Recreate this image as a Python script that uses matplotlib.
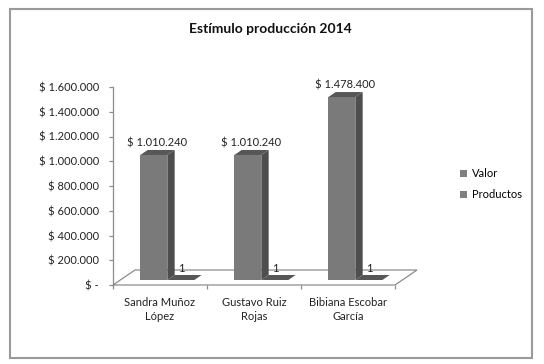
# -- coding: utf-8 --
# Estímulo producción 2014 - columnas 3D tipo Excel (imitadas en 2D)

import matplotlib
matplotlib.use('Agg')
import matplotlib.pyplot as plt
from matplotlib.patches import Polygon, Rectangle, Patch

plt.rcParams['font.family'] = ['Lato', 'DejaVu Sans']

# datos
nombres = ['Sandra Muñoz\nLópez', 'Gustavo Ruiz\nRojas', 'Bibiana Escobar\nGarcía']
valor = [1010240, 1010240, 1478400]
productos = [1, 1, 1]
series = ['Valor', 'Productos']
yticks = [0, 200000, 400000, 600000, 800000, 1000000, 1200000, 1400000, 1600000]


def pesos(v):
    if v == 0:
        return '$ -'
    return '$ ' + f'{v:,.0f}'.replace(',', '.')


W, H = 544, 364
fig = plt.figure(figsize=(W / 100, H / 100), dpi=100)

# ejes: x de 113 a 395 px, y de 285 (0) a 87 (1.600.000) px
ax = fig.add_axes([113 / W, (H - 285) / H, 282 / W, 198 / H])
ax.set_xlim(-0.5, 2.5)
ax.set_ylim(0, 1600000)

# profundidad 3D en unidades de datos
px_x = 3 / 282.0          # categorias por pixel
px_y = 1600000 / 198.0    # valor por pixel
fdx, fdy = 22 * px_x, 15 * px_y      # fondo completo
ddx, ddy = fdx / 3, fdy / 3          # un tercio de la profundidad
bw = 27 * px_x

c_front = '#7a7a7a'
c_side = '#4e4e4e'
c_top = '#575757'
c_edge = '#8c8c8c'

# piso
piso = Polygon([(-0.5, 0), (2.5, 0), (2.5 + fdx, fdy), (-0.5 + fdx, fdy)],
               closed=True, facecolor='white', edgecolor=c_edge, lw=0.9,
               clip_on=False, zorder=1)
ax.add_patch(piso)


def columna(x0, v, z):
    # cara frontal, lateral y superior de una columna
    b = ddy
    ax.bar(x0, v, width=bw, bottom=b, align='edge', color=c_front,
           edgecolor='none', clip_on=False, zorder=z)
    lado = [(x0 + bw, b), (x0 + bw + ddx, b + ddy),
            (x0 + bw + ddx, b + v + ddy), (x0 + bw, b + v)]
    ax.add_patch(Polygon(lado, closed=True, facecolor=c_side, edgecolor='none',
                         clip_on=False, zorder=z))
    tapa = [(x0, b + v), (x0 + bw, b + v),
            (x0 + bw + ddx, b + v + ddy), (x0 + ddx, b + v + ddy)]
    ax.add_patch(Polygon(tapa, closed=True, facecolor=c_top, edgecolor='none',
                         clip_on=False, zorder=z))


for i in range(len(nombres)):
    xc = i + ddx
    # productos primero (queda detras de la cara lateral de valor)
    columna(xc, productos[i], 3)
    columna(xc - bw, valor[i], 4)
    ax.annotate(pesos(valor[i]), (xc - bw / 2 + ddx / 2, ddy + valor[i] + ddy),
                xytext=(0, 1), textcoords='offset points', ha='center',
                va='bottom', fontsize=8, color='#222222', zorder=6,
                annotation_clip=False)
    ax.annotate(str(productos[i]), (xc + bw / 2, ddy + productos[i]),
                xytext=(0, 8), textcoords='offset points', ha='center',
                va='center', fontsize=8, color='#222222', zorder=6,
                annotation_clip=False)

# ejes y marcas
for s in ['top', 'right', 'bottom']:
    ax.spines[s].set_visible(False)
ax.spines['left'].set_color(c_edge)
ax.spines['left'].set_linewidth(0.9)
ax.set_yticks(yticks)
ax.set_yticklabels([pesos(v) for v in yticks])
ax.tick_params(axis='y', length=3, width=0.9, color=c_edge, pad=7,
               labelsize=8, labelcolor='#222222')
ax.set_xticks(range(len(nombres)))
ax.set_xticklabels(nombres, linespacing=1.25)
ax.set_xticks([-0.5, 0.5, 1.5, 2.5], minor=True)
ax.tick_params(axis='x', which='major', length=0, pad=9, labelsize=8,
               labelcolor='#222222')
ax.tick_params(axis='x', which='minor', length=3, width=0.9, color=c_edge)
ax.patch.set_alpha(0)

fig.text(270 / W, 1 - 29 / H, 'Estímulo producción 2014', ha='center',
         va='center', fontsize=10, fontweight='bold', color='#111111')

handles = [Patch(facecolor='#808080', edgecolor='none', label=s) for s in series]
fig.legend(handles=handles, loc='center left',
           bbox_to_anchor=(456 / W, 1 - 184 / H), frameon=False, fontsize=8,
           handlelength=0.6, handleheight=0.6, handletextpad=0.4,
           labelspacing=0.9, borderaxespad=0)

fig.patches.append(Rectangle((10 / W, 1 - 358 / H), 522 / W, 349 / H,
                             transform=fig.transFigure, fill=False,
                             edgecolor='#9a9a9a', lw=1.5))

fig.savefig('out.png', dpi=100)
